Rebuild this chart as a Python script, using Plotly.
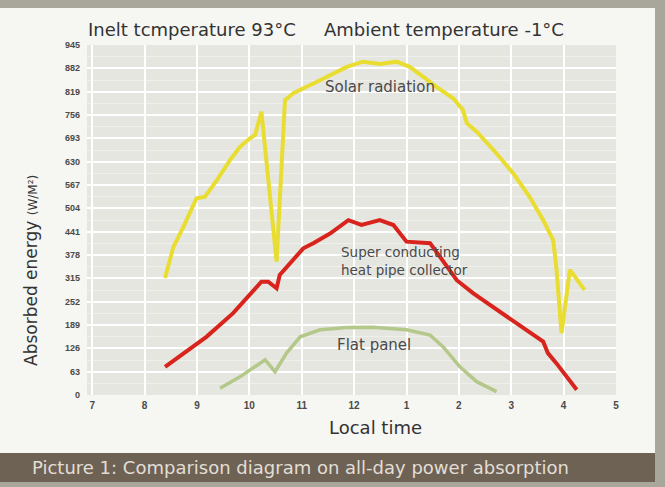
import plotly.graph_objects as go

# ---- data (hours on a 24h clock, absorbed energy W/m2) ----
solar_t = [8.39, 8.55, 8.74, 8.96, 8.99, 9.15, 9.38, 9.63, 9.82, 10.01, 10.11, 10.23,
           10.52, 10.68, 10.84, 11.35, 11.73, 11.86, 12.17, 12.49, 12.81, 13.06, 13.32,
           13.57, 13.89, 14.08, 14.15, 14.34, 14.72, 15.04, 15.35, 15.61, 15.80, 15.86,
           15.96, 16.12, 16.40]
solar_v = [316, 400, 454, 518, 531, 535, 580, 634, 670, 693, 702, 765,
           360, 796, 815, 850, 877, 886, 900, 894, 900, 886, 859,
           832, 801, 769, 734, 711, 652, 598, 535, 472, 418, 346,
           167, 338, 284]

hp_t = [8.39, 9.18, 9.69, 10.23, 10.36, 10.52, 10.58, 11.03, 11.22, 11.54, 11.89, 12.14,
        12.49, 12.75, 13.00, 13.45, 13.64, 13.96, 14.27, 14.65, 15.10, 15.61, 15.70,
        15.86, 16.25]
hp_v = [76, 157, 221, 306, 306, 288, 324, 396, 410, 436, 472, 459,
        472, 459, 414, 410, 373, 310, 275, 238, 194, 144, 113,
        86, 14]

flat_t = [9.44, 9.82, 10.30, 10.49, 10.71, 10.97, 11.35, 11.86, 12.36, 13.00, 13.45,
          13.70, 14.02, 14.34, 14.72]
flat_v = [18, 49, 95, 63, 113, 157, 176, 182, 183, 176, 162,
          130, 76, 36, 9]

x_tickvals = [7, 8, 9, 10, 11, 12, 13, 14, 15, 16, 17]
x_ticktext = ["7", "8", "9", "10", "11", "12", "1", "2", "3", "4", "5"]
y_tickvals = [0, 63, 126, 189, 252, 315, 378, 441, 504, 567, 630, 693, 756, 819, 882, 945]

W, H = 665, 487
L, R, T, B = 87, 616, 45, 395  # plot area in px


def px(x):
    return (x - L) / (R - L)


def py(y):
    return (B - y) / (B - T)


fig = go.Figure()
fig.add_trace(go.Scatter(x=solar_t, y=solar_v, mode="lines",
                         line=dict(color="#e8dd30", width=4), hoverinfo="skip"))
fig.add_trace(go.Scatter(x=hp_t, y=hp_v, mode="lines",
                         line=dict(color="#d8241c", width=4), hoverinfo="skip"))
fig.add_trace(go.Scatter(x=flat_t, y=flat_v, mode="lines",
                         line=dict(color="#b4c88a", width=3.5), hoverinfo="skip"))

shapes = [
    dict(type="rect", xref="paper", yref="paper", x0=px(0), x1=px(655), y0=py(453), y1=py(8),
         fillcolor="#f6f6f2", line=dict(width=0), layer="below"),
    dict(type="rect", xref="paper", yref="paper", x0=px(0), x1=px(655), y0=py(482), y1=py(453),
         fillcolor="#6e6255", line=dict(width=0), layer="below"),
    dict(type="rect", xref="x domain", yref="y domain", x0=0, x1=1, y0=0, y1=1,
         fillcolor="#e6e6e1", line=dict(width=0), layer="below"),
]


def ann(text, x, y, size, color="#333333", family="DejaVu Sans", xanchor="center", **kw):
    return dict(text=text, x=px(x), y=py(y), xref="paper", yref="paper", showarrow=False,
                xanchor=xanchor, yanchor="middle",
                font=dict(family=family, size=size, color=color), **kw)


lbl = "#4a4a4a"
annotations = [
    ann("Inelt tcmperature 93°C", 192, 30, 18),
    ann("Ambient temperature -1°C", 444, 30, 18),
    ann("Solar radiation", 380, 87, 15, lbl),
    ann("Super conducting<br>heat pipe collector", 339, 261, 13.5, lbl, xanchor="left",
        align="left"),
    ann("Flat panel", 335, 345, 15, lbl, xanchor="left"),
    ann("Absorbed energy <span style='font-size:12px'>(W/M²)</span>", 31, 271, 17,
        textangle=-90),
    ann("Local time", 375, 427, 18),
    ann("Picture 1: Comparison diagram on all-day power absorption", 30, 467, 18,
        "#e2ded6", xanchor="left"),
]

fig.update_layout(
    width=W, height=H,
    margin=dict(l=L, r=W - R, t=T, b=H - B, pad=0),
    paper_bgcolor="#a9a79c",
    plot_bgcolor="#e6e6e1",
    showlegend=False,
    shapes=shapes,
    annotations=annotations,
    xaxis=dict(range=[6.9, 17.0], tickvals=x_tickvals,
               ticktext=["<b>%s</b>" % t for t in x_ticktext],
               showgrid=True, gridcolor="#ffffff", gridwidth=2, zeroline=False,
               showline=False, ticks="", fixedrange=True, automargin=False,
               ticklabelstandoff=3,
               tickfont=dict(family="Liberation Sans", size=10, color="#4a4a4a")),
    yaxis=dict(range=[0, 945], tickvals=y_tickvals,
               ticktext=["<b>%d</b>" % v for v in y_tickvals],
               showgrid=True, gridcolor="#ffffff",
               gridwidth=2, zeroline=False, showline=False, ticks="", fixedrange=True,
               ticklabelstandoff=6, automargin=False,
               minor=dict(dtick=31.5, showgrid=True, gridcolor="#efefeb", gridwidth=1),
               tickfont=dict(family="Liberation Sans", size=9, color="#4a4a4a")),
)

fig.write_html("out.html", config={"displayModeBar": False},
               post_script="document.body.style.margin='0';")
